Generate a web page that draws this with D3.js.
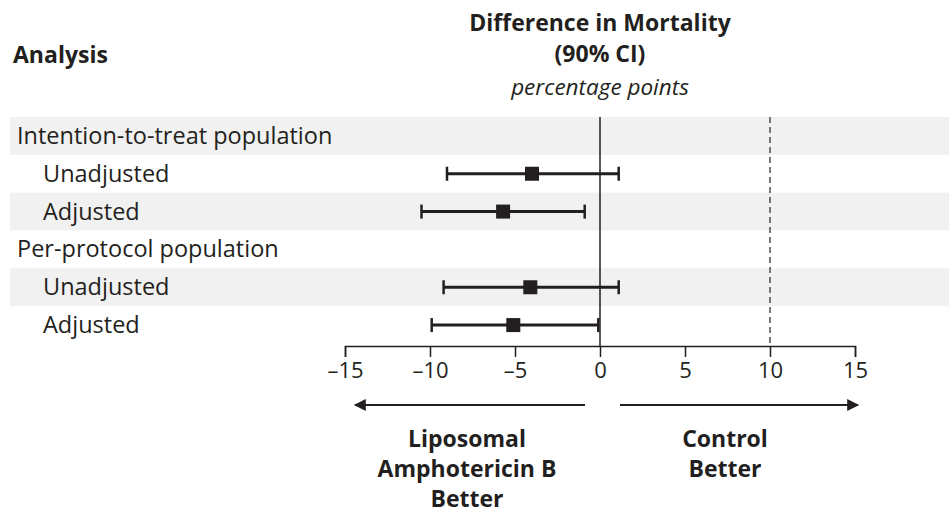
<!DOCTYPE html>
<html>
<head>
<meta charset="utf-8">
<script src="https://cdn.jsdelivr.net/npm/d3@7"></script>
<style>
  body { margin: 0; background: #fff; }
  svg { display: block; font-family: "Open Sans", "Noto Sans", sans-serif; }
</style>
</head>
<body>
<div id="chart"></div>
<script>
// rows of the forest plot, top to bottom
var rowLabels = ["Intention-to-treat population", "Unadjusted", "Adjusted",
                 "Per-protocol population", "Unadjusted", "Adjusted"];
var rowIsGroup = [true, false, false, true, false, false];
// difference in mortality (percentage points) with 90% CI; null for group headers
var estimate = [null, -4.0, -5.7, null, -4.1, -5.1];
var lower    = [null, -9.0, -10.5, null, -9.2, -9.9];
var upper    = [null, 1.1, -0.9, null, 1.1, -0.1];
var xTicks = [-15, -10, -5, 0, 5, 10, 15];
var marginRef = 10;

var width = 949, height = 516;
var ink = "#231f20";

var svg = d3.select("#chart").append("svg")
  .attr("width", width)
  .attr("height", height);

var x = d3.scaleLinear().domain([-15, 15]).range([345, 855]);
var y = d3.scaleBand().domain(d3.range(rowLabels.length)).range([117, 344]);
var axisY = 346;

// shaded bands on alternate rows
svg.selectAll(".band")
  .data(d3.range(rowLabels.length).filter(function(i) { return i % 2 === 0; }))
  .enter().append("rect")
    .attr("class", "band")
    .attr("x", 10)
    .attr("width", width - 10)
    .attr("y", function(i) { return y(i); })
    .attr("height", y.bandwidth())
    .attr("fill", "#f1f1f1");

// header
svg.append("text").attr("x", 13).attr("y", 63)
  .attr("font-size", 23).attr("font-weight", "bold").attr("fill", ink)
  .text("Analysis");
var header = svg.append("g").attr("text-anchor", "middle").attr("fill", ink);
header.append("text").attr("x", x(0)).attr("y", 31)
  .attr("font-size", 23).attr("font-weight", "bold").text("Difference in Mortality");
header.append("text").attr("x", x(0)).attr("y", 62)
  .attr("font-size", 23).attr("font-weight", "bold").text("(90% CI)");
header.append("text").attr("x", x(0)).attr("y", 95)
  .attr("font-size", 22.5).attr("font-style", "italic").text("percentage points");

// row labels
svg.selectAll(".rowlabel")
  .data(rowLabels)
  .enter().append("text")
    .attr("class", "rowlabel")
    .attr("x", function(d, i) { return rowIsGroup[i] ? 17 : 43; })
    .attr("y", function(d, i) { return y(i) + y.bandwidth() / 2 + 8; })
    .attr("font-size", 23.5)
    .attr("fill", ink)
    .text(function(d) { return d; });

// reference lines
svg.append("line")
  .attr("x1", x(0)).attr("x2", x(0))
  .attr("y1", y(0)).attr("y2", axisY)
  .attr("stroke", ink).attr("stroke-width", 1.5);
svg.append("line")
  .attr("x1", x(marginRef)).attr("x2", x(marginRef))
  .attr("y1", y(0)).attr("y2", axisY)
  .attr("stroke", ink).attr("stroke-width", 1.2)
  .attr("stroke-dasharray", "6,4");

// CI bars
var rows = d3.range(rowLabels.length).filter(function(i) { return estimate[i] !== null; });
var ci = svg.selectAll(".ci").data(rows).enter().append("g").attr("class", "ci");
ci.append("line")
  .attr("x1", function(i) { return x(lower[i]); })
  .attr("x2", function(i) { return x(upper[i]); })
  .attr("y1", function(i) { return y(i) + y.bandwidth() / 2; })
  .attr("y2", function(i) { return y(i) + y.bandwidth() / 2; })
  .attr("stroke", ink).attr("stroke-width", 3);
[lower, upper].forEach(function(arr) {
  ci.append("line")
    .attr("x1", function(i) { return x(arr[i]); })
    .attr("x2", function(i) { return x(arr[i]); })
    .attr("y1", function(i) { return y(i) + y.bandwidth() / 2 - 7; })
    .attr("y2", function(i) { return y(i) + y.bandwidth() / 2 + 7; })
    .attr("stroke", ink).attr("stroke-width", 2.5);
});
ci.append("rect")
  .attr("x", function(i) { return x(estimate[i]) - 7; })
  .attr("y", function(i) { return y(i) + y.bandwidth() / 2 - 7; })
  .attr("width", 14).attr("height", 14)
  .attr("fill", ink);

// x axis
var axis = svg.append("g")
  .attr("transform", "translate(0," + axisY + ")")
  .call(d3.axisBottom(x).tickValues(xTicks).tickSize(11).tickPadding(5)
    .tickFormat(function(d) { return d < 0 ? "\u2013" + Math.abs(d) : d; }));
axis.select(".domain").attr("stroke", ink).attr("stroke-width", 1.5);
axis.selectAll(".tick line").attr("stroke", ink).attr("stroke-width", 1.5);
axis.selectAll(".tick text").attr("font-size", 22).attr("fill", ink)
  .attr("font-family", "\"Open Sans\", sans-serif");

// direction arrows
svg.append("defs").append("marker").attr("id", "arrow")
  .attr("viewBox", "0 0 10 10").attr("refX", 9).attr("refY", 5)
  .attr("markerWidth", 22).attr("markerHeight", 12)
  .attr("markerUnits", "userSpaceOnUse")
  .attr("orient", "auto")
  .append("path").attr("d", "M0,0L10,5L0,10z").attr("fill", ink);
var arrowY = 405;
svg.append("line").attr("x1", 585).attr("x2", 355).attr("y1", arrowY).attr("y2", arrowY)
  .attr("stroke", ink).attr("stroke-width", 2).attr("marker-end", "url(#arrow)");
svg.append("line").attr("x1", 620).attr("x2", 858).attr("y1", arrowY).attr("y2", arrowY)
  .attr("stroke", ink).attr("stroke-width", 2).attr("marker-end", "url(#arrow)");

// direction labels
var leftLabel = ["Liposomal", "Amphotericin B", "Better"];
var rightLabel = ["Control", "Better"];
var dir = svg.append("g").attr("text-anchor", "middle").attr("font-size", 23)
  .attr("font-weight", "bold").attr("fill", ink);
dir.selectAll(".l").data(leftLabel).enter().append("text")
  .attr("x", 467).attr("y", function(d, i) { return 447 + i * 30; }).text(function(d) { return d; });
dir.selectAll(".r").data(rightLabel).enter().append("text")
  .attr("x", 725).attr("y", function(d, i) { return 447 + i * 30; }).text(function(d) { return d; });
</script>
</body>
</html>
